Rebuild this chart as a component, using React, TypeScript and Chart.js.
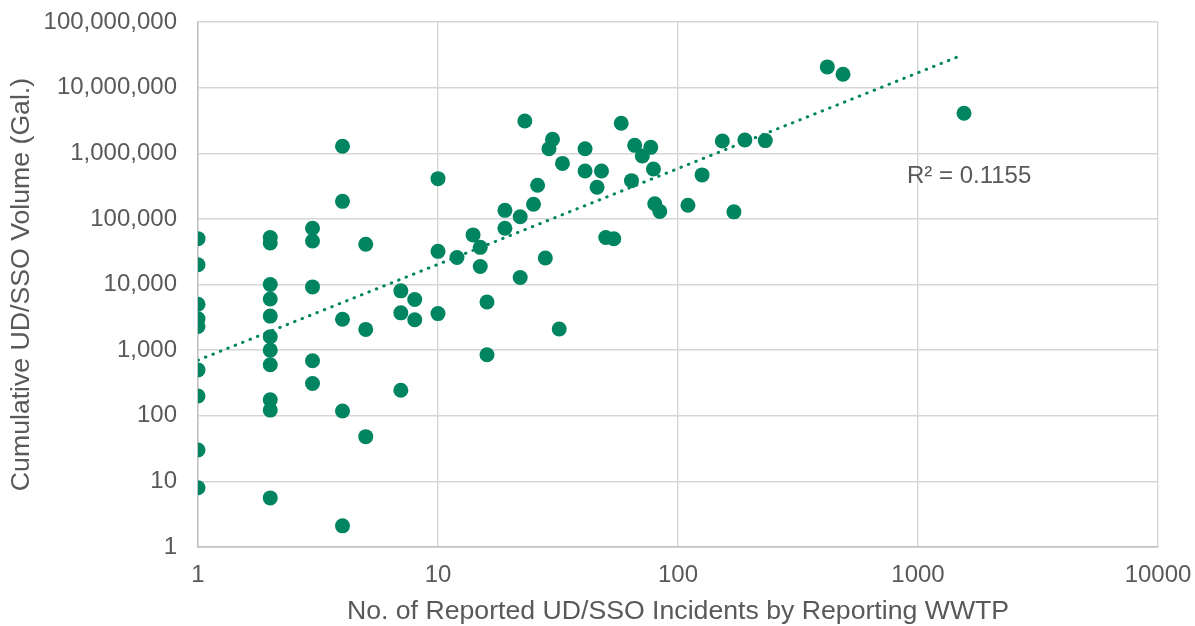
import React, { useEffect, useRef } from "react";
import { Chart, registerables } from "chart.js";

Chart.register(...registerables);

// No. of reported incidents per WWTP
const incidents: number[] = [
  1, 1, 1, 1, 1, 1, 1, 1, 1,
  2, 2, 2, 2, 2, 2, 2, 2, 2, 2, 2,
  3, 3, 3, 3, 3,
  4, 4, 4, 4, 4,
  5, 5, 5,
  7, 7, 7,
  8, 8,
  10, 10, 10,
  12, 14, 15, 15, 16, 16, 19, 19, 22, 22, 23, 25, 26, 28, 29, 30, 32, 33,
  41, 41, 46, 48, 50, 54, 58, 64, 66, 71, 77, 79, 80, 84,
  110, 126, 153, 171, 190, 231, 419, 487, 1555,
];

// Cumulative UD/SSO volume (gal.)
const volumes: number[] = [
  50000, 20000, 5000, 3000, 2300, 500, 200, 30, 8,
  52000, 43000, 10000, 6000, 3300, 1600, 1000, 600, 175, 122, 5.6,
  72000, 46000, 9200, 690, 310,
  1280000, 185000, 2950, 118, 2.1,
  41000, 2070, 48,
  8000, 3700, 245,
  5900, 2900,
  410000, 32000, 3600,
  25800, 57000, 36800, 18800, 5400, 850, 135000, 72000, 108000, 12800, 3100000, 167000, 325000, 25300, 1170000, 1630000, 2100, 700000,
  1170000, 537000, 303000, 537000, 52000, 49800, 2860000, 382000, 1320000, 908000, 1230000, 576000, 170000, 130000,
  161000, 468000, 1540000, 128000, 1590000, 1560000, 20700000, 16000000, 4070000,
];

// Power trendline end points (as drawn)
const trendX: number[] = [1, 1500];
const trendY: number[] = [703, 30500000];
const r2Label = "R\u00b2 = 0.1155";
const r2Anchor: number[] = [900, 437000];

const xTicks: number[] = [1, 10, 100, 1000, 10000];
const xTickLabels: string[] = ["1", "10", "100", "1000", "10000"];
const yTicks: number[] = [1, 10, 100, 1000, 10000, 100000, 1000000, 10000000, 100000000];
const yTickLabels: string[] = ["1", "10", "100", "1,000", "10,000", "100,000", "1,000,000", "10,000,000", "100,000,000"];

const xTitle = "No. of Reported UD/SSO Incidents by Reporting WWTP";
const yTitle = "Cumulative UD/SSO Volume (Gal.)";

const GREEN = "#008560";
const TEXT = "#595959";
const FONT = "'Liberation Sans', Arial, sans-serif";

export default function App() {
  const ref = useRef<HTMLCanvasElement | null>(null);

  useEffect(() => {
    if (!ref.current) return;
    const r2Plugin = {
      id: "r2label",
      afterDatasetsDraw(chart: any) {
        const { ctx, scales } = chart;
        const px = scales.x.getPixelForValue(r2Anchor[0]);
        const py = scales.y.getPixelForValue(r2Anchor[1]);
        ctx.save();
        ctx.font = `24px ${FONT}`;
        ctx.fillStyle = TEXT;
        ctx.textAlign = "left";
        ctx.textBaseline = "middle";
        ctx.fillText(r2Label, px, py);
        ctx.restore();
      },
    };

    const chart = new Chart(ref.current, {
      type: "scatter",
      data: {
        datasets: [
          {
            label: "Trend",
            type: "line",
            data: trendX.map((x, i) => ({ x, y: trendY[i] })),
            borderColor: GREEN,
            borderWidth: 3,
            borderDash: [0.5, 7.5],
            borderCapStyle: "round",
            pointRadius: 0,
            fill: false,
            order: 0,
          } as any,
          {
            label: "WWTP",
            data: incidents.map((x, i) => ({ x, y: volumes[i] })),
            backgroundColor: GREEN,
            borderColor: GREEN,
            borderWidth: 0,
            pointRadius: 7.5,
            order: 1,
          },
        ],
      },
      options: {
        animation: false,
        responsive: false,
        devicePixelRatio: 1,
        layout: { padding: { left: 0, top: 22, right: 37, bottom: 0 } },
        plugins: {
          legend: { display: false },
          tooltip: { enabled: false },
        },
        scales: {
          x: {
            type: "logarithmic",
            min: 1,
            max: 10000,
            afterFit(scale: any) {
              scale.height = 79;
              scale.paddingLeft = 0;
              scale.paddingRight = 0;
              scale.paddingTop = 0;
              scale.paddingBottom = 0;
            },
            afterBuildTicks(scale: any) {
              scale.ticks = xTicks.map((v) => ({ value: v }));
            },
            grid: { color: "#d6d6d6", lineWidth: 1.4, drawTicks: false },
            border: { color: "#bfbfbf", width: 1.4 },
            ticks: {
              padding: 14,
              color: TEXT,
              font: { family: FONT, size: 24 },
              maxRotation: 0,
              autoSkip: false,
              callback: (v: any) => {
                const i = xTicks.indexOf(Number(v));
                return i >= 0 ? xTickLabels[i] : "";
              },
            },
            title: {
              display: true,
              text: xTitle,
              color: TEXT,
              font: { family: FONT, size: 26.67, lineHeight: 1 },
              padding: { top: 0, bottom: 1.3 },
            },
          },
          y: {
            type: "logarithmic",
            min: 1,
            max: 100000000,
            afterFit(scale: any) {
              scale.width = 198;
              scale.paddingLeft = 0;
              scale.paddingRight = 0;
              scale.paddingTop = 0;
              scale.paddingBottom = 0;
            },
            afterBuildTicks(scale: any) {
              scale.ticks = yTicks.map((v) => ({ value: v }));
            },
            grid: { color: "#d6d6d6", lineWidth: 1.4, drawTicks: false },
            border: { color: "#bfbfbf", width: 1.4 },
            ticks: {
              padding: 21,
              color: TEXT,
              font: { family: FONT, size: 24 },
              autoSkip: false,
              callback: (v: any) => {
                const i = yTicks.indexOf(Number(v));
                return i >= 0 ? yTickLabels[i] : "";
              },
            },
            title: {
              display: true,
              text: yTitle,
              color: TEXT,
              font: { family: FONT, size: 26.67, lineHeight: 1 },
              padding: { top: 8.7, bottom: 0 },
            },
          },
        },
      },
      plugins: [r2Plugin],
    });
    return () => chart.destroy();
  }, []);

  return (
    <div style={{ position: "fixed", left: 0, top: 0, width: 1195, height: 626, background: "#fff" }}>
      <canvas ref={ref} width={1195} height={626} style={{ display: "block", width: 1195, height: 626 }} />
    </div>
  );
}
